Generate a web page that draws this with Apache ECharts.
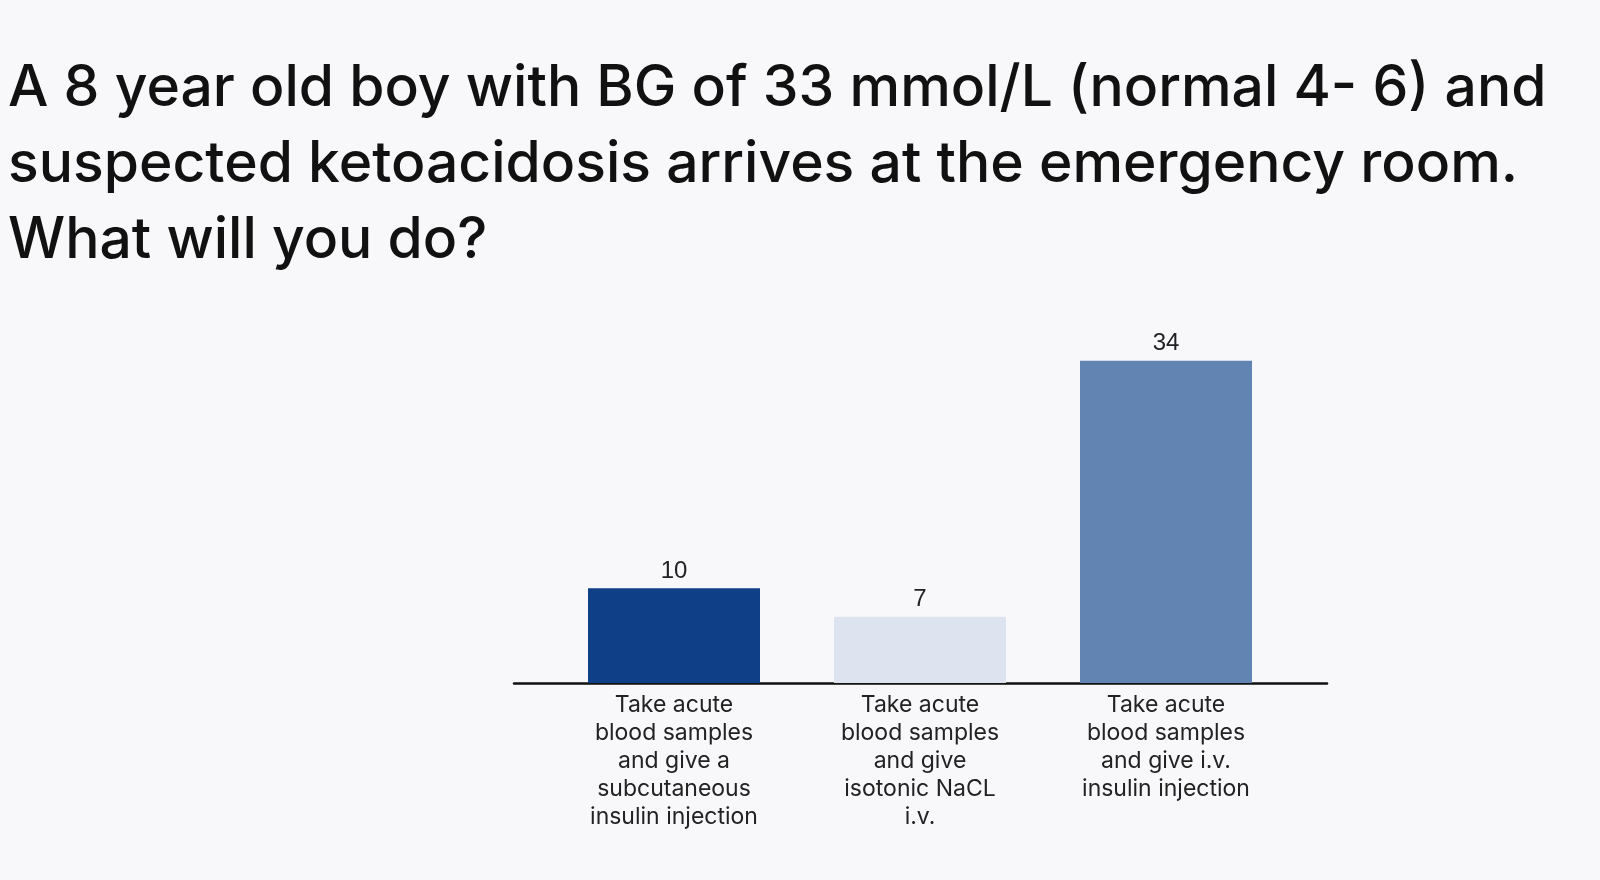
<!DOCTYPE html>
<html>
<head>
<meta charset="utf-8">
<script src="https://cdn.jsdelivr.net/npm/echarts@6/dist/echarts.min.js"></script>
<style>
html,body{margin:0;padding:0;background:#f8f7fa;}
#c{width:1600px;height:880px;}
</style>
</head>
<body>
<div id="c"></div>
<script>
const titleText = "A 8 year old boy with BG of 33 mmol/L (normal 4- 6) and\nsuspected ketoacidosis arrives at the emergency room.\nWhat will you do?";
const categories = [
  "Take acute\nblood samples\nand give a\nsubcutaneous\ninsulin injection",
  "Take acute\nblood samples\nand give\nisotonic NaCL\ni.v.",
  "Take acute\nblood samples\nand give i.v.\ninsulin injection"
];
const values = [10, 7, 34];
const barColors = ["#0f3f87", "#dde3ef", "#6284b3"];

const chart = echarts.init(document.getElementById('c'));
chart.setOption({
  backgroundColor: '#f8f7fa',
  animation: false,
  title: {
    text: titleText,
    left: 3,
    top: 46,
    textStyle: {
      fontFamily: 'Inter',
      fontSize: 57,
      fontWeight: 500,
      color: '#111',
      lineHeight: 76
    }
  },
  grid: [
    {left: 551, right: 311, top: 304, bottom: 197},
    {left: 514, right: 273, top: 304, bottom: 197}
  ],
  xAxis: [
    {
      type: 'category',
      gridIndex: 0,
      data: categories,
      axisLine: {show: false},
      axisTick: {show: false},
      axisLabel: {
        margin: 8,
        fontFamily: 'Inter',
        fontSize: 23,
        color: '#222',
        lineHeight: 28
      }
    },
    {
      type: 'value',
      gridIndex: 1,
      min: 0, max: 1,
      axisLine: {show: true, lineStyle: {color: '#111', width: 2.5}},
      axisTick: {show: false},
      axisLabel: {show: false},
      splitLine: {show: false}
    }
  ],
  yAxis: [
    {type: 'value', gridIndex: 0, min: 0, max: 40, show: false, splitLine: {show: false}},
    {type: 'value', gridIndex: 1, min: 0, max: 40, show: false, splitLine: {show: false}}
  ],
  series: [{
    type: 'bar',
    xAxisIndex: 0,
    yAxisIndex: 0,
    barWidth: 172,
    data: values.map((v, i) => ({value: v, itemStyle: {color: barColors[i]}})),
    label: {
      show: true,
      position: 'top',
      distance: 5,
      fontFamily: 'Liberation Sans',
      fontSize: 24,
      color: '#222'
    }
  }]
});
</script>
</body>
</html>
